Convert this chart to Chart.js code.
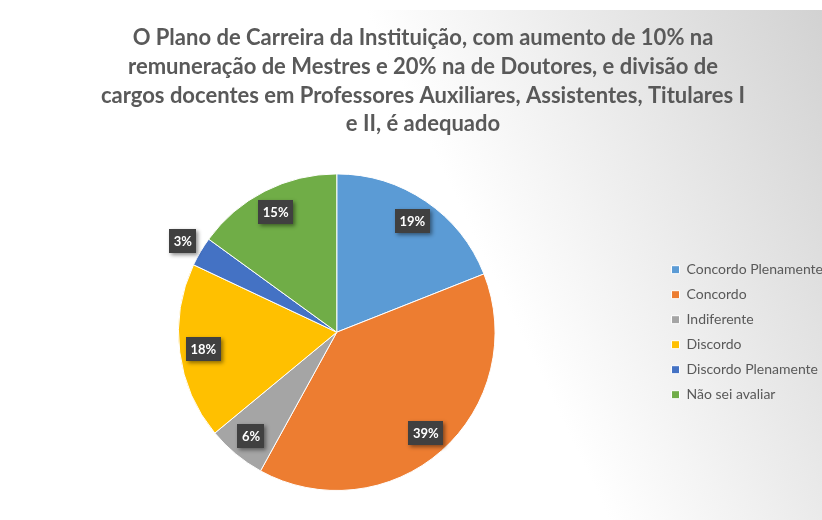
<!DOCTYPE html>
<html>
<head>
<meta charset="utf-8">
<script src="https://cdn.jsdelivr.net/npm/chart.js@4.4.1/dist/chart.umd.min.js"></script>
<style>
  html, body { margin: 0; padding: 0; background: #ffffff; }
  #wrap { width: 822px; height: 520px; }
</style>
</head>
<body>
<div id="wrap"><canvas id="c" width="822" height="520"></canvas></div>
<script>
// Survey answers
const categories = [
  'Concordo Plenamente',
  'Concordo',
  'Indiferente',
  'Discordo',
  'Discordo Plenamente',
  'Não sei avaliar'
];
const percentages = [19, 39, 6, 18, 3, 15];
const sliceColors = ['#5B9BD5', '#ED7D31', '#A5A5A5', '#FFC000', '#4472C4', '#70AD47'];
const titleLines = [
  'O Plano de Carreira da Instituição, com aumento de 10% na',
  'remuneração de Mestres e 20% na de Doutores, e divisão de',
  'cargos docentes em Professores Auxiliares, Assistentes, Titulares I',
  'e II, é adequado'
];

// Soft diagonal grey wash behind the chart
const backdrop = {
  id: 'backdrop',
  beforeDraw(chart) {
    const ctx = chart.ctx;
    ctx.save();
    ctx.fillStyle = '#ffffff';
    ctx.fillRect(0, 0, chart.width, chart.height);
    const g = ctx.createLinearGradient(380, 40, 752, -138);
    g.addColorStop(0, '#ffffff');
    g.addColorStop(1, '#d2d2d2');
    ctx.fillStyle = g;
    ctx.fillRect(6, 10, chart.width - 6, chart.height - 10);
    ctx.restore();
  }
};

// Dark boxed percentage labels, inside the slice or just outside for thin slices
const boxLabels = {
  id: 'boxLabels',
  afterDatasetsDraw(chart) {
    const ctx = chart.ctx;
    const meta = chart.getDatasetMeta(0);
    const values = chart.data.datasets[0].data;
    ctx.save();
    ctx.font = 'bold 13px Lato, "Open Sans", sans-serif';
    ctx.textAlign = 'center';
    ctx.textBaseline = 'middle';
    meta.data.forEach((arc, i) => {
      const p = arc.getProps(['x', 'y', 'startAngle', 'endAngle', 'outerRadius'], true);
      const mid = (p.startAngle + p.endAngle) / 2;
      const f = values[i] < 5 ? 1.13 : 0.85;
      const cx = p.x + Math.cos(mid) * p.outerRadius * f;
      const cy = p.y + Math.sin(mid) * p.outerRadius * f;
      const text = values[i] + '%';
      const w = Math.round(ctx.measureText(text).width + 9);
      const h = 24;
      ctx.save();
      ctx.shadowColor = 'rgba(0,0,0,0.45)';
      ctx.shadowBlur = 4;
      ctx.shadowOffsetX = 2;
      ctx.shadowOffsetY = 2;
      ctx.fillStyle = '#404040';
      ctx.fillRect(Math.round(cx - w / 2), Math.round(cy - h / 2), w, h);
      ctx.restore();
      ctx.fillStyle = '#ffffff';
      ctx.fillText(text, cx, cy + 1);
    });
    ctx.restore();
  }
};

new Chart(document.getElementById('c'), {
  type: 'pie',
  data: {
    labels: categories,
    datasets: [{
      data: percentages,
      backgroundColor: sliceColors,
      borderColor: '#ffffff',
      borderWidth: 1
    }]
  },
  plugins: [backdrop, boxLabels],
  options: {
    responsive: false,
    animation: false,
    // the legend runs slightly past the right edge, so its longest entry is cut off
    layout: { padding: { left: 13, right: -11, top: 0, bottom: 29 } },
    plugins: {
      tooltip: { enabled: false },
      title: {
        display: true,
        text: titleLines,
        color: '#595959',
        font: { family: 'Lato, "Open Sans", sans-serif', size: 22, weight: 'bold', lineHeight: 1.3 },
        padding: { top: 24, bottom: 35 }
      },
      legend: {
        position: 'right',
        fullSize: false,
        labels: {
          boxWidth: 8,
          boxHeight: 8,
          padding: 11,
          color: '#595959',
          font: { family: 'Lato, "Open Sans", sans-serif', size: 14 }
        }
      }
    }
  }
});
</script>
</body>
</html>
